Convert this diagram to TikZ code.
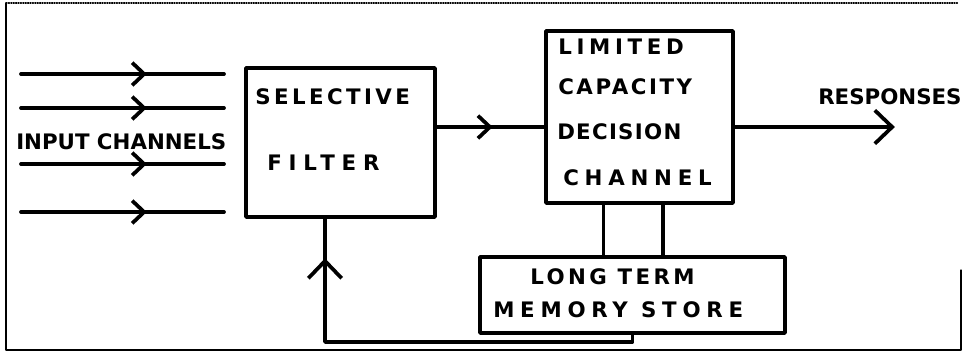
\documentclass[tikz,border=0pt]{standalone}
\usepackage{fontspec}
\setmainfont{DejaVu Sans}
\usetikzlibrary{arrows.meta,calc,decorations.markings}

\tikzset{
  chev/.tip={Straight Barb[length=9pt,width=17pt]},
  bigchev/.tip={Straight Barb[length=13pt,width=25pt]},
}

\begin{document}
\begin{tikzpicture}[x=0.75pt, y=-0.75pt, line cap=round, line join=round,
  wire/.style={line width=2.8pt},
  box/.style={draw, line width=2.8pt, inner sep=0pt},
  hand/.style={anchor=west, inner sep=0pt, font={\bfseries\fontsize{16}{19}\selectfont\addfontfeature{LetterSpace=#1}}},
  midarrow/.style={postaction={decorate}, decoration={markings, mark=at position #1 with {\arrow{chev}}}},
  midbig/.style={postaction={decorate}, decoration={markings, mark=at position #1 with {\arrow{bigchev}}}}]
		
		\useasboundingbox (0,0) rectangle (962,353);
		
		% Frame of the sheet
		\draw[line width=1pt] (961,270) -- (961,350) -- (6,350) -- (6,3);
		\draw[line width=0.8pt, densely dotted] (6,3) -- (958,3);
		
		% Boxes
		\node[box, minimum width=141.75pt, minimum height=111.75pt] (filter) at (340.5,142.5) {};
		\node[box, minimum width=140.25pt, minimum height=129pt] (lcdc) at (639.5,117) {};
		\node[box, minimum width=228.75pt, minimum height=57pt] (ltm) at (632.5,295) {};
		
		% Labels
		\node[hand=0] (inlbl) at (16,142) {INPUT CHANNELS};
		\node[hand=16] (sel) at (255,97) {SELECTIVE};
		\node[hand=32] (fil) at (267,163) {FILTER};
		\node[hand=22] (lim) at (558,47) {LIMITED};
		\node[hand=12] (cap) at (558,87) {CAPACITY};
		\node[hand=6] (dec) at (557,132) {DECISION};
		\node[hand=27] (chn) at (563,178) {CHANNEL};
		\node[hand=0] (resp) at (818,97) {RESPONSES};
		\node[hand=16] (lng) at (530,277) {LONG TERM};
		\node[hand=27] (mem) at (493,310) {MEMORY STORE};
		
		% Input channels
		\foreach \yy/\nm in {74/a,108/b,164/c,212/d}{
			\coordinate (in\nm) at (21,\yy);
			\coordinate (out\nm) at (224,\yy);
			\draw[wire, midarrow=0.62] (in\nm) -- (out\nm);
		}
		
		% Filter to decision channel, and responses
		\draw[wire, midarrow=0.52] ($(filter.east)+(0,-15.5)$) coordinate (fo) -- (fo -| lcdc.west);
		\draw[wire, -bigchev] ($(lcdc.east)+(0,10)$) coordinate (ro) -- ++(160,0) coordinate (rend);
		
		% Links to the memory store
		\draw[wire] ($(lcdc.south)+(-36,0)$) coordinate (la) -- (la |- ltm.north);
		\draw[wire] ($(lcdc.south)+(23.5,0)$) coordinate (lb) -- (lb |- ltm.north);
		
		% Feedback to the filter
		\coordinate (fb) at (325,342);
		\draw[wire, midbig=0.91] (ltm.south) |- (fb) -- (fb |- filter.south);
		
	\end{tikzpicture}
\end{document}
